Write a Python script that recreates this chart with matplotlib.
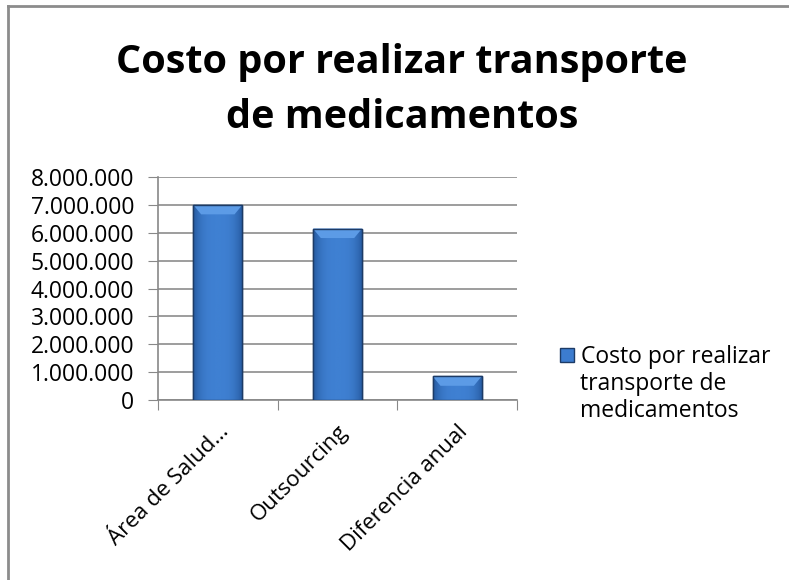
import numpy as np
import matplotlib
matplotlib.use("Agg")
import matplotlib.pyplot as plt
from matplotlib.lines import Line2D
from matplotlib.ticker import FuncFormatter

# data
CATEGORIES = ["Área de Salud…", "Outsourcing", "Diferencia anual"]
VALUES = [7000000, 6150000, 850000]
SERIES_NAME = ["Costo por realizar", "transporte de", "medicamentos"]
TITLE_LINES = ["Costo por realizar transporte", "de medicamentos"]

plt.rcParams["font.family"] = ["Open Sans", "DejaVu Sans"]

fig = plt.figure(figsize=(7.89, 5.80), dpi=100)
ax = fig.add_axes([158 / 789, 1 - 400 / 580, (517 - 158) / 789, (400 - 177) / 580])

x = np.arange(len(CATEGORIES))
bars = ax.bar(x, VALUES, width=0.41, color="#3c7ccf", edgecolor="#1d3b66", linewidth=1.0, zorder=3)

# shaded fill inside each bar
grad = np.linspace(0, 1, 64)
shade = 1 - 0.6 * (2 * np.abs(grad - 0.5)) ** 3
cmap = matplotlib.colors.LinearSegmentedColormap.from_list("b", ["#25599e", "#3f80d2"])
for b in bars:
    bx, by, bw, bh = b.get_x(), b.get_y(), b.get_width(), b.get_height()
    im = ax.imshow(shade[None, :], cmap=cmap, vmin=0.4, vmax=1, aspect="auto",
                   extent=(bx, bx + bw, by, by + bh), zorder=3.5)
    im.set_clip_path(b)
    # light top bevel
    bev = min(bh * 0.4, 340000)
    ax.fill([bx, bx + bw, bx + bw * 0.84, bx + bw * 0.16],
            [by + bh, by + bh, by + bh - bev, by + bh - bev],
            color="#5c9be6", zorder=3.6, lw=0)
    ax.add_patch(plt.Rectangle((bx, by), bw, bh, fill=False, ec="#1d3b66", lw=1.0, zorder=4))

ax.set_xlim(-0.5, len(CATEGORIES) - 0.5)
ax.set_ylim(0, 8000000)
ax.set_yticks(np.arange(0, 8000001, 1000000))
ax.yaxis.set_major_formatter(FuncFormatter(lambda v, p: f"{int(v):,}".replace(",", ".")))
ax.set_xticks(np.arange(-0.5, len(CATEGORIES), 1.0), minor=False)
ax.set_xticklabels([])
ax.set_xticks(x, minor=True)
ax.set_xticklabels(CATEGORIES, minor=True, rotation=45, ha="right", rotation_mode="anchor", fontsize=16)
ax.tick_params(axis="x", which="minor", length=0, pad=15)
ax.tick_params(axis="x", which="major", length=7, color="#888888", direction="out")
ax.tick_params(axis="y", length=7, color="#888888", labelsize=16.5, pad=10)

ax.grid(axis="y", color="#8c8c8c", linewidth=1.2, zorder=0)
for s in ["top", "right"]:
    ax.spines[s].set_visible(False)
ax.spines["left"].set_color("#888888")
ax.spines["bottom"].set_color("#888888")
ax.spines["left"].set_linewidth(1.2)
ax.spines["bottom"].set_linewidth(1.2)

# legend: handle next to the first line, the rest of the name wrapped below
leg = ax.legend([bars[0]], [SERIES_NAME[0]], loc="center left",
                bbox_to_anchor=(560 / 789, 1 - 357 / 580), bbox_transform=fig.transFigure,
                frameon=False, fontsize=16.5, handlelength=0.6, handleheight=0.6,
                handletextpad=0.3, borderaxespad=0, borderpad=0)
for i, line in enumerate(SERIES_NAME[1:], start=1):
    fig.text(580 / 789, 1 - (357 + 27 * i) / 580, line, ha="left", va="center", fontsize=16.5)

fig.text(402 / 789, 1 - 62 / 580, TITLE_LINES[0], ha="center", va="center", fontsize=28.5,
         fontweight="bold")
fig.text(402 / 789, 1 - 118 / 580, TITLE_LINES[1], ha="center", va="center", fontsize=28.5,
         fontweight="bold")

# chart area frame
fig.add_artist(Line2D([8 / 789, 8 / 789], [0, 1 - 6 / 580], color="#8c8c8c", lw=2))
fig.add_artist(Line2D([8 / 789, 1], [1 - 6 / 580, 1 - 6 / 580], color="#8c8c8c", lw=2))

fig.savefig("out.png", dpi=100)
